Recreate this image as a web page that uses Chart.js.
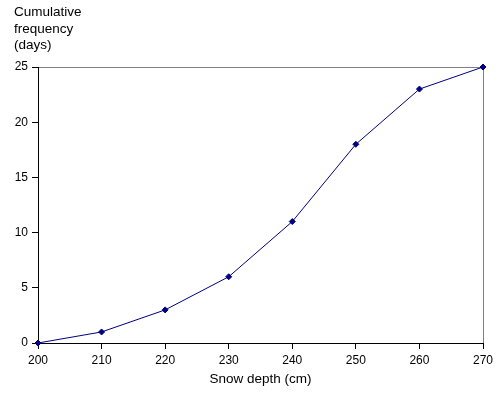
<!DOCTYPE html>
<html>
<head>
<meta charset="utf-8">
<script src="https://cdn.jsdelivr.net/npm/chart.js@4/dist/chart.umd.min.js"></script>
<style>
  html, body { margin: 0; padding: 0; background: #fff; }
  #wrap { width: 501px; height: 393px; }
</style>
</head>
<body>
<div id="wrap"><canvas id="chartSnow"></canvas></div>
<script>
// Snow depth (cm) vs cumulative frequency (days)
const snowDepth = [200, 210, 220, 230, 240, 250, 260, 270];
const cumulativeDays = [0, 1, 3, 6, 11, 18, 23, 25];
const yTitleLines = ['Cumulative', 'frequency', '(days)'];
const xTitle = 'Snow depth (cm)';

const fontFamily = '"Liberation Sans", Arial, sans-serif';
const fontTicks = { family: fontFamily, size: 12 };
const fontTitle = { family: fontFamily, size: 13.5 };

// caixa cinza em volta da área do gráfico + título do eixo y
const boxPlugin = {
  id: 'boxPlugin',
  beforeDraw(chart) {
    const { ctx, chartArea: a } = chart;
    ctx.save();
    ctx.strokeStyle = '#808080';
    ctx.lineWidth = 1;
    ctx.strokeRect(a.left + 0.5, a.top + 0.5, a.right - a.left, a.bottom - a.top);
    ctx.restore();
  },
  afterDraw(chart) {
    const ctx = chart.ctx;
    ctx.save();
    ctx.fillStyle = '#000';
    ctx.font = '13.5px ' + fontFamily;
    ctx.textBaseline = 'alphabetic';
    yTitleLines.forEach((t, i) => ctx.fillText(t, 14, 16 + i * 16.5));
    ctx.restore();
  }
};

const ctxSnow = document.getElementById('chartSnow').getContext('2d');
const chartSnow = new Chart(ctxSnow, {
  type: 'line',
  data: {
    datasets: [{
      label: 'Cumulative frequency',
      data: snowDepth.map((x, i) => ({ x: x, y: cumulativeDays[i] })),
      borderColor: '#000080',
      backgroundColor: '#000080',
      borderWidth: 1,
      pointStyle: 'rectRot',
      pointRadius: 3,
      pointHoverRadius: 3,
      tension: 0,
      clip: false
    }]
  },
  options: {
    responsive: true,
    maintainAspectRatio: false,
    animation: false,
    layout: { padding: { left: 0, top: 67, right: 18, bottom: 6 } },
    plugins: {
      legend: { display: false },
      tooltip: { enabled: false }
    },
    scales: {
      x: {
        type: 'linear',
        min: 200,
        max: 270,
        ticks: { stepSize: 10, color: '#000', font: fontTicks, padding: 4 },
        grid: { drawOnChartArea: false, drawTicks: true, tickLength: 6, color: '#000' },
        border: { display: true, color: '#000' },
        title: { display: true, text: xTitle, color: '#000', font: fontTitle, padding: { top: 2, bottom: 0 } },
        afterFit(scale) { scale.height = 44; }
      },
      y: {
        min: 0,
        max: 25,
        ticks: { stepSize: 5, color: '#000', font: fontTicks, padding: 4 },
        grid: { drawOnChartArea: false, drawTicks: true, tickLength: 6, color: '#000' },
        border: { display: true, color: '#000' },
        afterFit(scale) { scale.width = 38; }
      }
    }
  },
  plugins: [boxPlugin]
});
</script>
</body>
</html>
